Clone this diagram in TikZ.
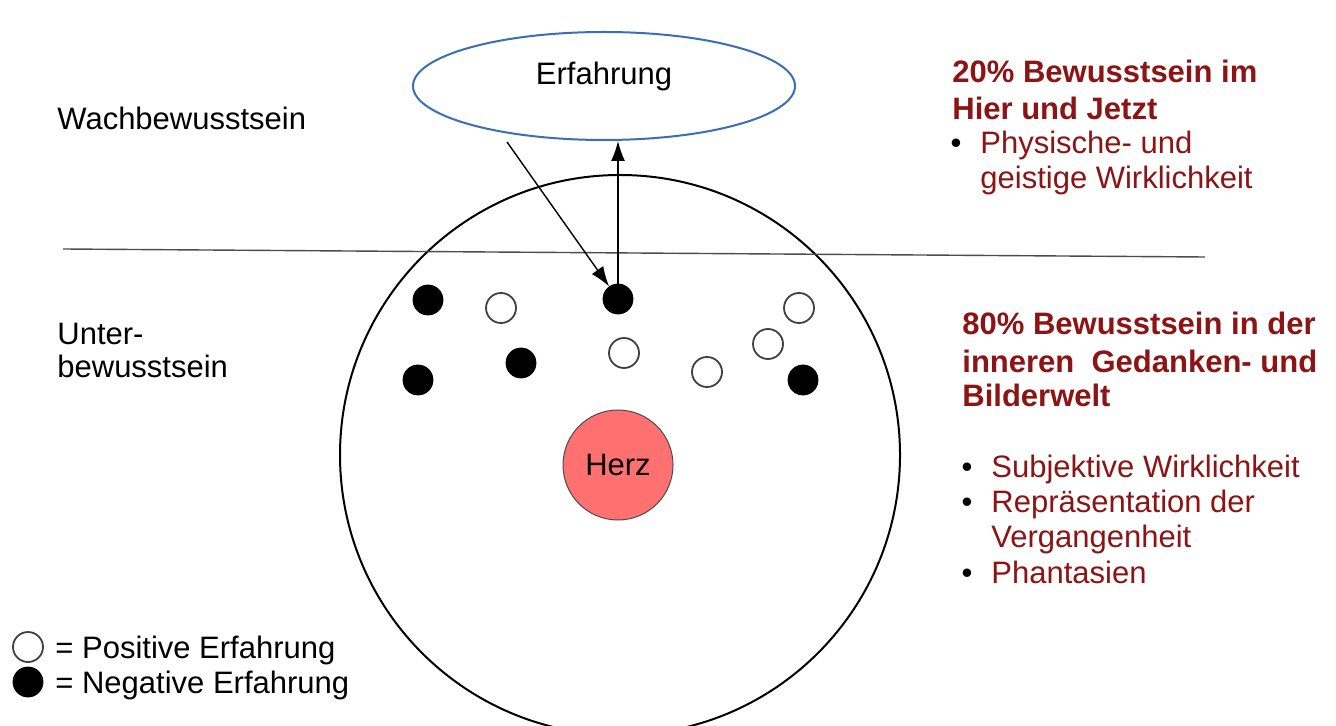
\documentclass[tikz,border=0pt]{standalone}
\usepackage{fontspec}
\setmainfont{Liberation Sans}
\usetikzlibrary{shapes.geometric,arrows.meta}
\definecolor{darkrot}{RGB}{140,20,20}
\definecolor{ellblau}{RGB}{60,110,180}
\definecolor{herzrot}{RGB}{255,112,112}
\tikzstyle{posdot}=[circle,draw=black!75,fill=white,line width=0.9pt,inner sep=0pt,minimum size=15pt]
\tikzstyle{negdot}=[circle,draw=black,fill=black,inner sep=0pt,minimum size=15pt]
\tikzstyle{txt}=[anchor=base west,inner sep=0pt,font=\fontsize{15.5}{18}\selectfont]
\tikzstyle{hint}=[txt,text=darkrot]
\tikzstyle{bul}=[anchor=base,inner sep=0pt,font=\fontsize{15.5}{18}\selectfont]
\tikzstyle{arr}=[-{Latex[length=10pt,width=7pt]},line width=0.7pt]

\begin{document}
\begin{tikzpicture}[x=0.5pt,y=-0.5pt]
			\useasboundingbox (0,0) rectangle (1336,726);
			\fill [white] (0,0) rectangle (1336,726);

			\node (mind) at (620,455) [circle,draw=black,line width=1pt,inner sep=0pt,minimum size=280pt] {};
			\node (erf) at (604,86) [ellipse,draw=ellblau,line width=1pt,inner sep=0pt,minimum width=191pt,minimum height=54pt,text height=7pt,text depth=8pt,font=\fontsize{15.5}{18}\selectfont] {Erfahrung};
			\node (herz) at (618,465) [circle,draw=black!70,fill=herzrot,line width=0.5pt,inner sep=0pt,minimum size=55pt,font=\fontsize{15.5}{18}\selectfont] {Herz};

			\coordinate (links) at (63,249);
			\coordinate (rechts) at (1205,257);
			\draw [black!70,line width=0.7pt] (links) -- (rechts);

			\node (n1) at (428,300) [negdot] {};
			\node (n2) at (418,380) [negdot] {};
			\node (n3) at (618,299) [negdot] {};
			\node (n4) at (521,363) [negdot] {};
			\node (n5) at (803,380) [negdot] {};
			\node (p1) at (501,308) [posdot] {};
			\node (p2) at (624,353) [posdot] {};
			\node (p3) at (707,372) [posdot] {};
			\node (p4) at (768,344) [posdot] {};
			\node (p5) at (799,308) [posdot] {};

			\coordinate (quelle) at (507,142);
			\draw [arr] (n3.center) -- (n3 |- erf.south);
			\draw [arr] (quelle) -- (n3);

			\node (wach) at (57,130) [txt] {Wachbewusstsein};
			\node (unter1) at (57,345) [txt] {Unter-};
			\node (unter2) at (57,378) [txt] {bewusstsein};

			\node (h1) at (952,83) [hint,font=\fontsize{15.5}{18}\selectfont\bfseries] {20\% Bewusstsein im};
			\node (h2) at (952,120) [hint,font=\fontsize{15.5}{18}\selectfont\bfseries] {Hier und Jetzt};
			\node (d1) at (956,154) [bul] {•};
			\node (h3) at (980,154) [hint] {Physische- und};
			\node (h4) at (980,189) [hint] {geistige Wirklichkeit};

			\node (u1) at (962,335) [hint,font=\fontsize{15.5}{18}\selectfont\bfseries] {80\% Bewusstsein in der};
			\node (u2) at (962,372) [hint,font=\fontsize{15.5}{18}\selectfont\bfseries] {inneren\ \ Gedanken- und};
			\node (u3) at (962,407) [hint,font=\fontsize{15.5}{18}\selectfont\bfseries] {Bilderwelt};
			\node (d2) at (967,477) [bul] {•};
			\node (u4) at (991,477) [hint] {Subjektive Wirklichkeit};
			\node (d3) at (967,512) [bul] {•};
			\node (u5) at (991,512) [hint] {Repräsentation der};
			\node (u6) at (991,547) [hint] {Vergangenheit};
			\node (d4) at (967,583) [bul] {•};
			\node (u7) at (991,583) [hint] {Phantasien};

			\node (lp) at (28,647) [posdot] {};
			\node (ln) at (28,682) [negdot] {};
			\node (lpt) at (55,658) [txt] {= Positive Erfahrung};
			\node (lnt) at (55,693) [txt] {= Negative Erfahrung};
		\end{tikzpicture}
\end{document}
